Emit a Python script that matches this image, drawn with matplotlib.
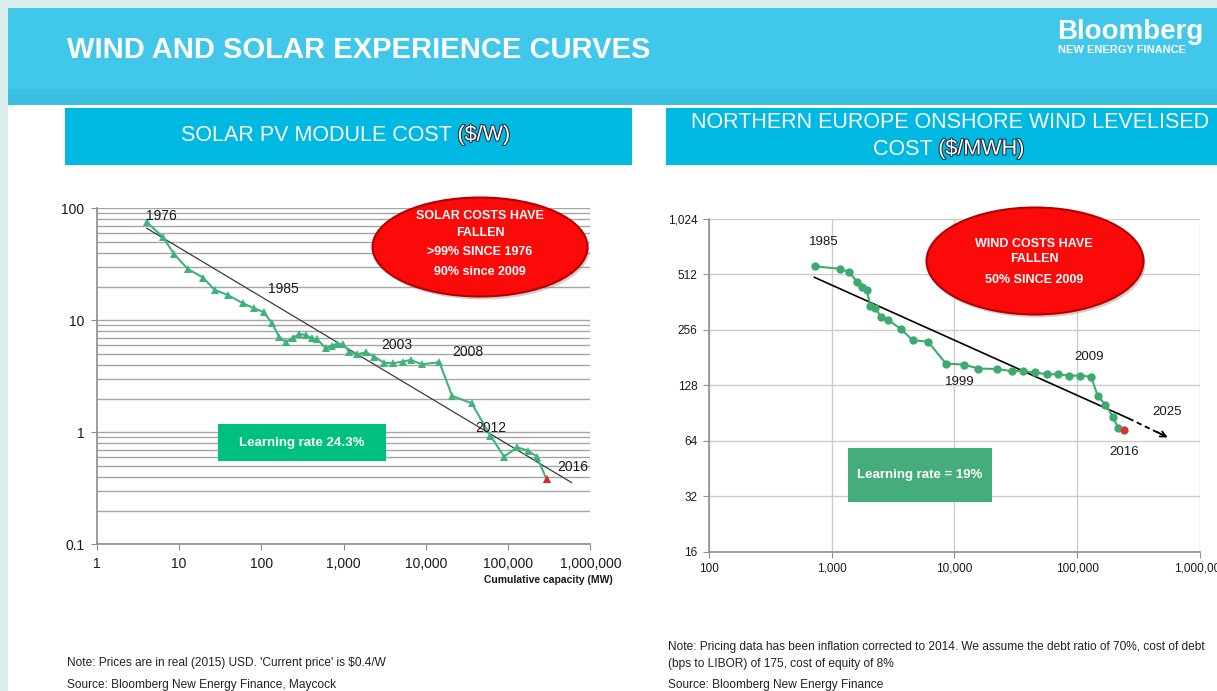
import matplotlib
matplotlib.use("Agg")
import numpy as np
import matplotlib.pyplot as plt
from matplotlib.patches import Ellipse, Rectangle
from matplotlib.ticker import FixedLocator, FixedFormatter, NullLocator
import matplotlib.patheffects as pe

plt.rcParams['font.family'] = ['Liberation Sans', 'DejaVu Sans']

# solar PV module cost ($/W) vs cumulative capacity (MW)
solar_mw = [4.05, 6.3, 8.75, 12.8, 19.5, 27.1, 39.2, 59.7, 82.2, 107, 134, 164,
            198, 242, 290, 347, 411, 478, 607, 727, 828, 982, 1175, 1463, 1860,
            2366, 3069, 3981, 5265, 6561, 8855, 14600, 20900, 35900, 61000,
            89100, 129000, 174000, 224000, 293000]
solar_cost = [75, 55.8, 38.8, 28.7, 24.1, 18.7, 16.8, 14.2, 12.8, 11.8, 9.53, 7.15,
              6.37, 7.0, 7.55, 7.4, 6.9, 6.77, 5.62, 5.94, 6.15, 6.15, 5.25, 4.97, 5.18,
              4.74, 4.19, 4.13, 4.28, 4.43, 4.05, 4.22, 2.11, 1.82, 0.933,
              0.607, 0.735, 0.686, 0.607, 0.38]
solar_fit_mw = [4.05, 590000]
solar_fit_cost = [66.3, 0.356]
solar_years = ['1976', '1985', '2003', '2008', '2012', '2016']

# northern europe onshore wind LCOE ($/MWh) vs cumulative capacity (MW)
wind_mw = [736, 1165, 1386, 1626, 1783, 1945, 2065, 2265, 2522, 2900, 3660, 4590,
           6110, 8530, 11900, 15700, 22100, 29200, 36100, 45000, 56800, 70300,
           86400, 105000, 130000, 147000, 170000, 197000, 215000, 241000]
wind_cost = [566, 550, 528, 466, 436, 421, 345, 338, 302, 290, 259, 225,
             221, 168, 166, 158, 157, 153, 153, 150.5, 147, 147,
             144.5, 144.5, 142.6, 112, 100.5, 85.7, 75.4, 73.2]
wind_fit_mw = [726, 262000]
wind_fit_cost = [494, 84.7]
wind_proj_mw = [262000, 546000]
wind_proj_cost = [84.7, 66.8]

solar_xticks = [1, 10, 100, 1000, 10000, 100000, 1000000]
solar_xlabels = ['1', '10', '100', '1,000', '10,000', '100,000', '1,000,000']
solar_yticks = [0.1, 1, 10, 100]
solar_ylabels = ['0.1', '1', '10', '100']
wind_xticks = [100, 1000, 10000, 100000, 1000000]
wind_xlabels = ['100', '1,000', '10,000', '100,000', '1,000,000']
wind_yticks = [16, 32, 64, 128, 256, 512, 1024]
wind_ylabels = ['16', '32', '64', '128', '256', '512', '1,024']

W, H = 1217, 691
fig = plt.figure(figsize=(W / 100, H / 100), dpi=100)
fig.patch.set_facecolor('white')

# background layer in pixel coordinates
bg = fig.add_axes([0, 0, 1, 1])
bg.set_xlim(0, W)
bg.set_ylim(H, 0)
bg.axis('off')
bg.set_zorder(-1)

frame = '#dcedee'
bg.add_patch(Rectangle((0, 0), W, 8, color=frame, lw=0))
bg.add_patch(Rectangle((0, 0), 8, H, color=frame, lw=0))
bg.add_patch(Rectangle((8, 8), W - 8, 97, color='#40c7e9', lw=0))
bg.add_patch(Rectangle((8, 89), W - 8, 16, color='#3cc0e2', lw=0))
bg.add_patch(Rectangle((65, 108), 567, 57, color='#00b9e3', lw=0))
bg.add_patch(Rectangle((666, 108), W - 666, 57, color='#00b9e3', lw=0))

bg.text(67, 50, 'WIND AND SOLAR EXPERIENCE CURVES', color='white', fontsize=21,
        fontweight='bold', va='center', ha='left')
bg.text(1057, 39, 'Bloomberg', color='white', fontsize=20, fontweight='bold',
        va='baseline', ha='left')
bg.text(1058, 50, 'NEW ENERGY FINANCE', color='white', fontsize=8, fontweight='bold',
        va='center', ha='left')

unit_fx = [pe.withStroke(linewidth=1.5, foreground='#1c2c3c')]
t = bg.text(181, 135, 'SOLAR PV MODULE COST ', color='white', fontsize=15.5,
            va='center', ha='left')
bg.annotate('($/W)', xy=(1, 0.5), xycoords=t, va='center', ha='left',
            color='white', fontsize=15.5, path_effects=unit_fx)
bg.text(950, 122, 'NORTHERN EUROPE ONSHORE WIND LEVELISED', color='white',
        fontsize=15.5, va='center', ha='center')
t = bg.text(873, 149, 'COST ', color='white', fontsize=15.5, va='center', ha='left')
bg.annotate('($/MWH)', xy=(1, 0.5), xycoords=t, va='center', ha='left',
            color='white', fontsize=15.5, path_effects=unit_fx)

note_kw = dict(fontsize=8.6, color='#222222', va='center', ha='left')
bg.text(67, 663, "Note: Prices are in real (2015) USD. 'Current price' is $0.4/W", **note_kw)
bg.text(67, 685, 'Source: Bloomberg New Energy Finance, Maycock', **note_kw)
bg.text(668, 647, 'Note: Pricing data has been inflation corrected to 2014. We assume the '
        'debt ratio of 70%, cost of debt', **note_kw)
bg.text(668, 664, '(bps to LIBOR) of 175, cost of equity of 8%', **note_kw)
bg.text(668, 685, 'Source: Bloomberg New Energy Finance', **note_kw)

# ---- solar chart
ax1 = fig.add_axes([96.8 / W, 1 - 544.3 / H, 493.6 / W, 336 / H])
ax1.set_facecolor('none')
ax1.set_xscale('log')
ax1.set_yscale('log')
ax1.set_xlim(1, 1e6)
ax1.set_ylim(0.1, 100)
ax1.grid(True, axis='y', which='both', color='#a6a6a6', lw=1.0)
ax1.set_axisbelow(True)
for s in ['top', 'right']:
    ax1.spines[s].set_visible(False)
for s in ['left', 'bottom']:
    ax1.spines[s].set_color('#8c8c8c')
    ax1.spines[s].set_linewidth(1.2)
ax1.xaxis.set_major_locator(FixedLocator(solar_xticks))
ax1.xaxis.set_major_formatter(FixedFormatter(solar_xlabels))
ax1.xaxis.set_minor_locator(NullLocator())
ax1.yaxis.set_major_locator(FixedLocator(solar_yticks))
ax1.yaxis.set_major_formatter(FixedFormatter(solar_ylabels))
ax1.tick_params(which='major', length=4, color='#8c8c8c', labelsize=10,
                labelcolor='#1a1a1a')
ax1.tick_params(axis='x', pad=5)
ax1.tick_params(axis='y', pad=5)
ax1.tick_params(which='minor', length=0)

ax1.plot(solar_fit_mw, solar_fit_cost, color='#3a3a3a', lw=0.9, zorder=2)
ax1.plot(solar_mw, solar_cost, color='#3fb37b', lw=1.5, marker='^', ms=5.5,
         markeredgewidth=0, zorder=3)
ax1.plot(solar_mw[-1], solar_cost[-1], marker='^', color='#e8222c', ms=6,
         markeredgewidth=0, zorder=4)

yr_kw = dict(fontsize=10, color='#1a1a1a', ha='center', va='center')
for lbl, x, y in zip(solar_years, [6.17, 185, 4440, 32800, 61000, 608000],
                     [85.5, 18.9, 6.02, 5.18, 1.086, 0.49]):
    ax1.text(x, y, lbl, **yr_kw)

fig.text(613 / W, 1 - 580 / H, 'Cumulative capacity (MW)', fontsize=7.5,
         fontweight='bold', ha='right', va='center', color='#1a1a1a')

# ---- wind chart
ax2 = fig.add_axes([708.7 / W, 1 - 551.7 / H, 491.3 / W, 332.7 / H])
ax2.set_facecolor('none')
ax2.set_xscale('log')
ax2.set_yscale('log', base=2)
ax2.set_xlim(100, 1e6)
ax2.set_ylim(16, 1024)
ax2.grid(True, which='major', color='#cccccc', lw=1.0)
ax2.set_axisbelow(True)
for s in ['top', 'right']:
    ax2.spines[s].set_visible(False)
for s in ['left', 'bottom']:
    ax2.spines[s].set_color('#909090')
    ax2.spines[s].set_linewidth(1.2)
ax2.xaxis.set_major_locator(FixedLocator(wind_xticks))
ax2.xaxis.set_major_formatter(FixedFormatter(wind_xlabels))
ax2.xaxis.set_minor_locator(NullLocator())
ax2.yaxis.set_major_locator(FixedLocator(wind_yticks))
ax2.yaxis.set_major_formatter(FixedFormatter(wind_ylabels))
ax2.yaxis.set_minor_locator(NullLocator())
ax2.tick_params(which='major', length=4, color='#909090', labelsize=8.5,
                labelcolor='#1a1a1a', pad=4)

ax2.plot(wind_fit_mw, wind_fit_cost, color='black', lw=1.2, zorder=2)
ax2.plot(wind_proj_mw, wind_proj_cost, color='black', lw=1.3, ls=(0, (3, 2)), zorder=2)
ax2.annotate('', xy=(wind_proj_mw[-1], wind_proj_cost[-1]), xytext=(-8, 4),
             textcoords='offset points',
             arrowprops=dict(arrowstyle='->', color='black', lw=1.3,
                             shrinkA=0, shrinkB=0))
ax2.plot(wind_mw, wind_cost, color='#3daa6e', lw=1.5, marker='o', ms=6,
         markeredgewidth=0, zorder=3)
ax2.plot(wind_mw[-1], wind_cost[-1], marker='o', color='#e52d33', ms=5.5,
         markeredgewidth=0, zorder=4)

wyr_kw = dict(fontsize=9.5, color='#1a1a1a', ha='center', va='center')
ax2.text(868, 771, '1985', **wyr_kw)
ax2.text(11100, 134, '1999', **wyr_kw)
ax2.text(124000, 182, '2009', **wyr_kw)
ax2.text(242000, 55.4, '2016', **wyr_kw)
ax2.text(538000, 91.3, '2025', **wyr_kw)

# ---- overlay callouts (pixel coordinates)
ov = fig.add_axes([0, 0, 1, 1])
ov.set_xlim(0, W)
ov.set_ylim(H, 0)
ov.axis('off')
ov.set_zorder(5)
ov.patch.set_alpha(0)

for cx, cy, ew, eh in [(480, 247, 215, 99), (1035, 261, 217, 107)]:
    ov.add_patch(Ellipse((cx + 2, cy + 3), ew, eh, color='#7a7a7a', alpha=0.35, lw=0))
    ov.add_patch(Ellipse((cx, cy), ew, eh, facecolor='#fb0a0a', edgecolor='#b80000',
                         lw=1.5))

call_kw = dict(color='white', fontsize=9, fontweight='bold', ha='center', va='center')
for txt, y in zip(['SOLAR COSTS HAVE', 'FALLEN', '>99% SINCE 1976', '90% since 2009'],
                  [216, 233, 252, 272]):
    ov.text(480, y, txt, **call_kw)
for txt, y in zip(['WIND COSTS HAVE', 'FALLEN', '50% SINCE 2009'], [244, 259, 280]):
    ov.text(1034, y, txt, **call_kw)

ov.add_patch(Rectangle((218, 424), 168, 37, color='#00c080', lw=0))
ov.text(302, 442.5, 'Learning rate 24.3%', color='white', fontsize=9.5,
        fontweight='bold', ha='center', va='center')
ov.add_patch(Rectangle((848, 448), 144, 54, color='#45ad7b', lw=0))
ov.text(920, 475, 'Learning rate = 19%', color='white', fontsize=9.5,
        fontweight='bold', ha='center', va='center')

fig.savefig('out.png', dpi=100)
